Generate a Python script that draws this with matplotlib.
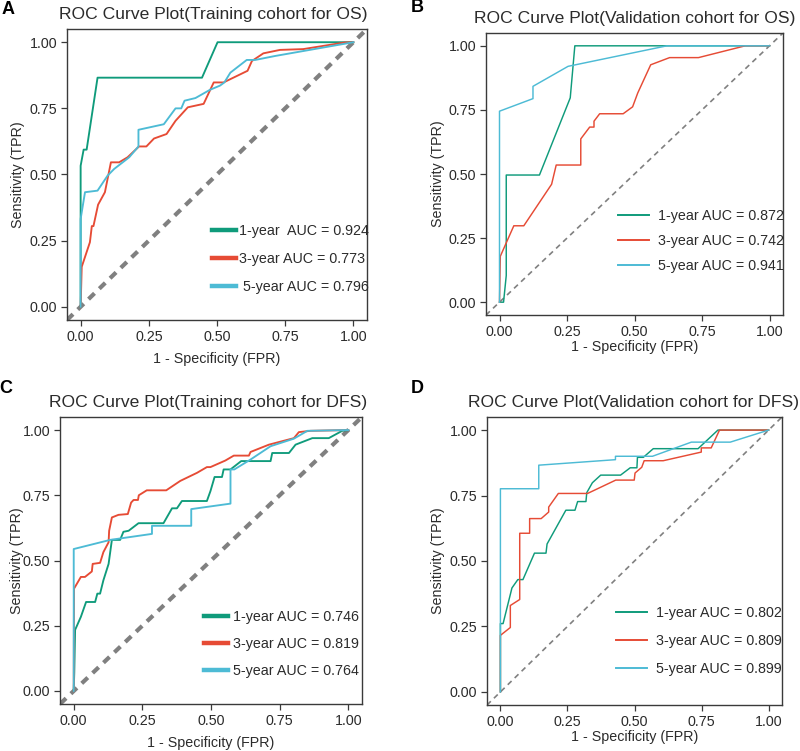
import matplotlib
matplotlib.use("Agg")
import matplotlib.pyplot as plt
from matplotlib.lines import Line2D

plt.rcParams['font.family'] = ['Liberation Sans', 'DejaVu Sans']

# ---------------- data ----------------
# Panel A: Training cohort for OS
a_fpr_1y = [0, 0, 0.011, 0.022, 0.062, 0.445, 0.502, 1.0]
a_tpr_1y = [0, 0.533, 0.594, 0.594, 0.866, 0.866, 1.0, 1.0]
a_fpr_3y = [0, 0.004, 0.034, 0.041, 0.047, 0.064, 0.089, 0.111, 0.141, 0.172, 0.214, 0.241, 0.269,
            0.315, 0.348, 0.393, 0.451, 0.488, 0.524, 0.612, 0.628, 0.670, 0.731, 0.816, 0.968, 1.0]
a_tpr_3y = [0, 0.151, 0.244, 0.305, 0.305, 0.386, 0.433, 0.546, 0.546, 0.565, 0.606, 0.606, 0.636,
            0.653, 0.703, 0.754, 0.767, 0.848, 0.848, 0.892, 0.929, 0.958, 0.971, 0.974, 0.999, 1.0]
a_fpr_5y = [0, 0, 0.016, 0.062, 0.099, 0.123, 0.178, 0.212, 0.212, 0.305, 0.348, 0.369, 0.381,
            0.421, 0.474, 0.511, 0.527, 0.549, 0.609, 0.640, 0.713, 1.0]
a_tpr_5y = [0, 0.332, 0.433, 0.439, 0.496, 0.521, 0.565, 0.606, 0.669, 0.690, 0.750, 0.750, 0.779,
            0.789, 0.820, 0.836, 0.848, 0.885, 0.933, 0.933, 0.948, 1.0]
a_labels = ["1-year  AUC = 0.924", "3-year AUC = 0.773", " 5-year AUC = 0.796"]

# Panel B: Validation cohort for OS
b_fpr_1y = [0, 0.015, 0.025, 0.025, 0.148, 0.262, 0.279, 1.0]
b_tpr_1y = [0, 0, 0.104, 0.496, 0.496, 0.797, 1.0, 1.0]
b_fpr_3y = [0, 0.003, 0.053, 0.090, 0.193, 0.210, 0.301, 0.301, 0.334, 0.350, 0.350, 0.371, 0.458,
            0.493, 0.512, 0.560, 0.630, 0.737, 0.910, 1.0]
b_tpr_3y = [0, 0.179, 0.298, 0.298, 0.460, 0.535, 0.535, 0.637, 0.683, 0.683, 0.706, 0.735, 0.735,
            0.762, 0.816, 0.926, 0.954, 0.954, 1.0, 1.0]
b_fpr_5y = [0, 0, 0.124, 0.124, 0.254, 0.620, 1.0]
b_tpr_5y = [0, 0.745, 0.794, 0.842, 0.920, 1.0, 1.0]
b_labels = ["1-year AUC = 0.872", "3-year AUC = 0.742", "5-year AUC = 0.941"]

# Panel C: Training cohort for DFS
c_fpr_1y = [0, 0, 0.002, 0.005, 0.013, 0.026, 0.045, 0.078, 0.086, 0.096, 0.108, 0.127, 0.139,
            0.169, 0.181, 0.200, 0.236, 0.327, 0.358, 0.376, 0.394, 0.485, 0.498, 0.513, 0.540,
            0.546, 0.571, 0.610, 0.717, 0.723, 0.784, 0.808, 0.869, 0.929, 0.978, 1.0]
c_tpr_1y = [0, 0.005, 0.069, 0.234, 0.253, 0.284, 0.341, 0.341, 0.373, 0.373, 0.424, 0.487, 0.579,
            0.579, 0.610, 0.614, 0.643, 0.643, 0.700, 0.700, 0.728, 0.728, 0.766, 0.820, 0.820,
            0.849, 0.849, 0.881, 0.881, 0.912, 0.912, 0.944, 0.969, 0.969, 0.997, 1.0]
c_fpr_3y = [0, 0.001, 0.026, 0.041, 0.066, 0.069, 0.096, 0.108, 0.127, 0.129, 0.139, 0.163, 0.197,
            0.209, 0.218, 0.234, 0.237, 0.266, 0.337, 0.388, 0.449, 0.485, 0.498, 0.552, 0.583,
            0.638, 0.644, 0.711, 0.802, 0.820, 0.862, 1.0]
c_tpr_3y = [0, 0.392, 0.437, 0.437, 0.458, 0.487, 0.491, 0.532, 0.570, 0.614, 0.665, 0.675, 0.678,
            0.722, 0.732, 0.732, 0.750, 0.769, 0.769, 0.805, 0.836, 0.858, 0.858, 0.883, 0.902,
            0.902, 0.916, 0.944, 0.969, 0.992, 0.997, 1.0]
c_fpr_5y = [0, 0, 0.133, 0.285, 0.285, 0.428, 0.428, 0.571, 0.571, 0.585, 0.644, 0.717, 0.802, 0.851, 1.0]
c_tpr_5y = [0, 0.544, 0.579, 0.602, 0.633, 0.633, 0.697, 0.718, 0.849, 0.849, 0.887, 0.938, 0.967, 0.997, 1.0]
c_labels = ["1-year AUC = 0.746", "3-year AUC = 0.819", "5-year AUC = 0.764"]

# Panel D: Validation cohort for DFS
d_fpr_1y = [0, 0, 0.010, 0.043, 0.065, 0.084, 0.127, 0.170, 0.174, 0.244, 0.278, 0.288, 0.319,
            0.322, 0.343, 0.374, 0.448, 0.484, 0.509, 0.511, 0.533, 0.570, 0.737, 0.811, 1.0]
d_tpr_1y = [0, 0.261, 0.261, 0.397, 0.429, 0.429, 0.530, 0.530, 0.565, 0.694, 0.694, 0.727, 0.727,
            0.761, 0.799, 0.828, 0.828, 0.856, 0.856, 0.896, 0.896, 0.929, 0.929, 1.0, 1.0]
d_fpr_3y = [0, 0, 0.037, 0.037, 0.072, 0.072, 0.109, 0.109, 0.152, 0.180, 0.180, 0.216, 0.325,
            0.356, 0.430, 0.499, 0.502, 0.527, 0.536, 0.607, 0.749, 0.749, 0.786, 0.817, 1.0]
d_tpr_3y = [0, 0.216, 0.246, 0.330, 0.353, 0.606, 0.606, 0.662, 0.662, 0.687, 0.706, 0.758, 0.758,
            0.773, 0.809, 0.809, 0.836, 0.858, 0.883, 0.883, 0.916, 0.932, 0.932, 1.0, 1.0]
d_fpr_5y = [0, 0, 0.143, 0.143, 0.429, 0.429, 0.567, 0.712, 0.857, 1.0]
d_tpr_5y = [0, 0.776, 0.776, 0.866, 0.887, 0.900, 0.900, 0.954, 0.954, 1.0]
d_labels = ["1-year AUC = 0.802", "3-year AUC = 0.809", "5-year AUC = 0.899"]

titles = ["ROC Curve Plot(Training cohort for OS)",
          "ROC Curve Plot(Validation cohort for OS)",
          "ROC Curve Plot(Training cohort for DFS)",
          "ROC Curve Plot(Validation cohort for DFS)"]
panel_letters = ["A", "B", "C", "D"]
tick_vals = [0.0, 0.25, 0.5, 0.75, 1.0]
tick_labels = ["0.00", "0.25", "0.50", "0.75", "1.00"]
colors = ["#0F9B7B", "#E64B35", "#4DBBD5"]

# ---------------- layout ----------------
W, H = 800, 751
fig = plt.figure(figsize=(8.0, 7.51), dpi=100)
fig.patch.set_facecolor("white")

def fr(l, t, r, b):
    return [l / W, 1 - b / H, (r - l) / W, (b - t) / H]

panels = [
    dict(rect=fr(67, 29, 367, 320), curves=[(a_fpr_1y, a_tpr_1y), (a_fpr_3y, a_tpr_3y), (a_fpr_5y, a_tpr_5y)],
         labels=a_labels, thick=True, title_xy=(213, 15), letter_xy=(8, 10),
         leg_x=212, leg_y=259, hlen=1.7, htp=0.22, lspace=0.98, xlabpad=6, ylab_x=18),
    dict(rect=fr(486, 33, 783, 315), curves=[(b_fpr_1y, b_tpr_1y), (b_fpr_3y, b_tpr_3y), (b_fpr_5y, b_tpr_5y)],
         labels=b_labels, thick=False, title_xy=(635, 18), letter_xy=(417, 8),
         leg_x=618, leg_y=241, hlen=2.2, htp=0.62, lspace=0.76, xlabpad=1, ylab_x=438),
    dict(rect=fr(60, 417, 362, 704), curves=[(c_fpr_1y, c_tpr_1y), (c_fpr_3y, c_tpr_3y), (c_fpr_5y, c_tpr_5y)],
         labels=c_labels, thick=True, title_xy=(208, 403), letter_xy=(6, 388),
         leg_x=204, leg_y=644, hlen=1.7, htp=0.3, lspace=0.9, xlabpad=6, ylab_x=17),
    dict(rect=fr(487, 417, 782, 705), curves=[(d_fpr_1y, d_tpr_1y), (d_fpr_3y, d_tpr_3y), (d_fpr_5y, d_tpr_5y)],
         labels=d_labels, thick=False, title_xy=(634, 402), letter_xy=(417, 388),
         leg_x=616, leg_y=641, hlen=2.2, htp=0.6, lspace=0.98, xlabpad=1, ylab_x=438),
]

spine_col = "#3a3a3a"
text_col = "#2b2b2b"

for i, p in enumerate(panels):
    ax = fig.add_axes(p["rect"])
    thick = p["thick"]
    lw = 1.35 if thick else 1.05
    # diagonal reference line
    if thick:
        ax.plot([-0.05, 1.05], [-0.05, 1.05], color="#808080", lw=3.0,
                linestyle=(0, (2.0, 1.6)), solid_capstyle="butt", zorder=1)
    else:
        ax.plot([-0.05, 1.05], [-0.05, 1.05], color="#808080", lw=1.2,
                linestyle=(0, (3.2, 2.6)), zorder=1)
    for (fx, ty), col in zip(p["curves"], colors):
        ax.plot(fx, ty, color=col, lw=lw, zorder=3)
    ax.set_xlim(-0.05, 1.05)
    ax.set_ylim(-0.05, 1.05)
    ax.set_xticks(tick_vals)
    ax.set_xticklabels(tick_labels)
    ax.set_yticks(tick_vals)
    ax.set_yticklabels(tick_labels)
    ax.tick_params(axis="both", direction="out", length=4, width=0.9, color=spine_col,
                   labelsize=10.3, labelcolor=text_col, pad=3)
    for s in ax.spines.values():
        s.set_color(spine_col)
        s.set_linewidth(1.0)
    ax.set_xlabel("1 - Specificity (FPR)", fontsize=10.3, color=text_col, labelpad=p["xlabpad"])
    ax.set_ylabel("")
    rect = p["rect"]
    yc = rect[1] + rect[3] / 2
    fig.text(p["ylab_x"] / W, yc, "Sensitivity (TPR)", rotation=90, fontsize=10.3,
             color=text_col, ha="center", va="center")
    fig.text(p["title_xy"][0] / W, 1 - p["title_xy"][1] / H, titles[i], fontsize=12.6,
             color=text_col, ha="center", va="center")
    fig.text(p["letter_xy"][0] / W, 1 - p["letter_xy"][1] / H, panel_letters[i], fontsize=13,
             fontweight="bold", color="black", ha="center", va="center")
    handles = [Line2D([0], [0], color=c, lw=(3.2 if thick else 1.4)) for c in colors]
    ax.legend(handles, p["labels"], loc="center left",
              bbox_to_anchor=(p["leg_x"] / W, 1 - p["leg_y"] / H), bbox_transform=fig.transFigure,
              frameon=False, fontsize=10.3, handlelength=p["hlen"], handletextpad=p["htp"],
              labelspacing=p["lspace"], borderpad=0, borderaxespad=0, labelcolor=text_col)

fig.savefig("out.png", dpi=100, facecolor="white")
